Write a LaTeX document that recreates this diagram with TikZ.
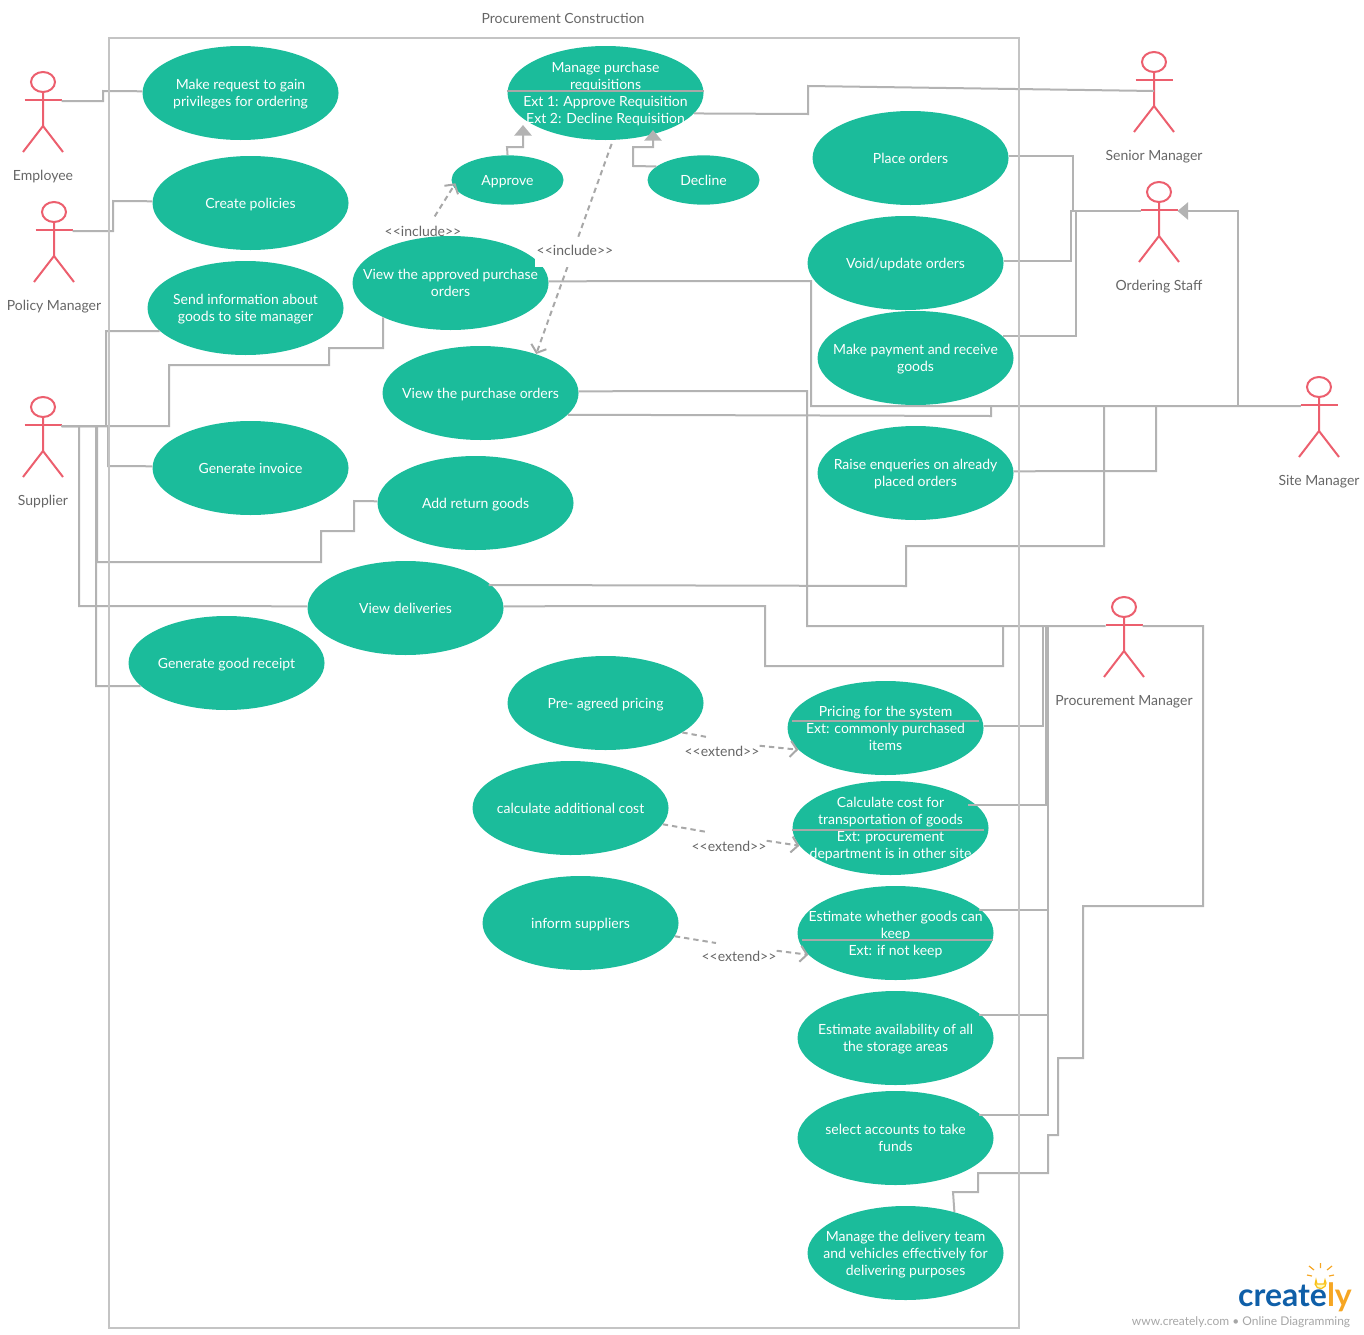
\documentclass[tikz,border=0pt]{standalone}
\usepackage{fontspec}
\setmainfont{Lato}
\usetikzlibrary{shapes.geometric, arrows.meta}

\definecolor{casegreen}{HTML}{1BBC9B}
\definecolor{wiregrey}{HTML}{B3B3B3}
\definecolor{boxgrey}{HTML}{C4C4C4}
\definecolor{dashgrey}{HTML}{A8A8A8}
\definecolor{actorred}{HTML}{EC5F6E}
\definecolor{labelgrey}{HTML}{666666}
\definecolor{logoblue}{HTML}{0F5FA8}
\definecolor{logoorange}{HTML}{F6A623}

\newcommand{\actor}[4]{
  \node[actorhead] (#1) at (#2,#3) {};
  \path (#1.center) ++(-18.5,19) coordinate (#1-l) ++(37,0) coordinate (#1-r) ++(-18.5,10) coordinate (#1-w);
  \draw[actorline] (#1.south) -- ++(0,33) coordinate (#1-hip) -- ++(-20,26);
  \draw[actorline] (#1-hip) -- ++(20,26);
  \draw[actorline] (#1.center) ++(-18.5,18) -- ++(37,0);
  \path (#1.center) ++(0,93) node[tag] (#1-name) {#4};
}

\begin{document}
\begin{tikzpicture}[x=0.75pt, y=-0.75pt,
  usecase/.style={ellipse, fill=casegreen, inner sep=0pt, xshift=0.4pt, minimum width=147pt, minimum height=70.5pt},
  smallcase/.style={usecase, minimum width=84pt, minimum height=37pt},
  casetext/.style={text=white, align=center, inner sep=0pt, yshift=-1.85pt, font=\fontsize{10.5}{12.75}\selectfont, execute at begin node=\strut, execute at end node=\strut},
  tag/.style={text=labelgrey, inner sep=0pt, yshift=-1.5pt, text height=8pt, text depth=2.5pt, font=\fontsize{10.5}{12.75}\selectfont},
  actorhead/.style={ellipse, draw=actorred, line width=1.5pt, inner sep=0pt, minimum width=18pt, minimum height=15pt},
  actorline/.style={actorred, line width=1.5pt},
  wire/.style={wiregrey, line width=1.5pt},
  divider/.style={dashgrey, line width=1.5pt},
  solidtip/.style={wire, -{Triangle[width=13pt, length=8pt]}},
  dashline/.style={dashgrey, line width=1.5pt, dash pattern=on 4pt off 3pt},
  opentip/.style={dashline, -{Straight Barb[length=5pt, width=12pt]}}]

  \useasboundingbox (0,0) rectangle (1364,1335);

  \node[usecase, label={[casetext]center:{Make request to gain\\privileges for ordering}}] (request) at (240,93) {};
  \node[usecase, label={[casetext]center:{Create policies}}] (policies) at (250,203) {};
  \node[usecase, label={[casetext]center:{Send information about\\goods to site manager}}] (sendinfo) at (245,308) {};
  \node[usecase, label={[casetext]center:{Generate invoice}}] (invoice) at (250,468) {};
  \node[usecase, label={[casetext]center:{View the approved purchase\\orders}}] (viewapproved) at (450,283) {};
  \node[usecase, label={[casetext]center:{View the purchase orders}}] (viewpo) at (480,393) {};
  \node[usecase, label={[casetext]center:{Add return goods}}] (returns) at (475,503) {};
  \node[usecase, label={[casetext]center:{View deliveries}}] (deliveries) at (405,608) {};
  \node[usecase, label={[casetext]center:{Generate good receipt}}] (receipt) at (226,663) {};
  \node[usecase, label={[casetext]center:{Manage purchase\\requisitions\\Ext 1: Approve Requisition\\Ext 2: Decline Requisition}}] (manage) at (605,93) {};
  \node[smallcase, label={[casetext]center:{Approve}}] (approve) at (507,180) {};
  \node[smallcase, label={[casetext]center:{Decline}}] (decline) at (703,180) {};
  \node[usecase, label={[casetext]center:{Place orders}}] (place) at (910,158) {};
  \node[usecase, label={[casetext]center:{Void/update orders}}] (void) at (905,263) {};
  \node[usecase, label={[casetext]center:{Make payment and receive\\goods}}] (payment) at (915,358) {};
  \node[usecase, label={[casetext]center:{Raise enqueries on already\\placed orders}}] (raise) at (915,473) {};
  \node[usecase, label={[casetext]center:{Pre- agreed pricing}}] (preagreed) at (605,703) {};
  \node[usecase, label={[casetext]center:{Pricing for the system\\Ext: commonly purchased\\items}}] (pricesys) at (885,728) {};
  \node[usecase, label={[casetext]center:{calculate additional cost}}] (addcost) at (570,808) {};
  \node[usecase, label={[casetext]center:{Calculate cost for\\transportation of goods\\Ext: procurement\\department is in other site}}] (transport) at (890,828) {};
  \node[usecase, label={[casetext]center:{inform suppliers}}] (inform) at (580,923) {};
  \node[usecase, label={[casetext]center:{Estimate whether goods can\\keep\\Ext: if not keep}}] (keep) at (895,933) {};
  \node[usecase, label={[casetext]center:{Estimate availability of all\\the storage areas}}] (storage) at (895,1038) {};
  \node[usecase, label={[casetext]center:{select accounts to take\\funds}}] (accounts) at (895,1138) {};
  \node[usecase, label={[casetext]center:{Manage the delivery team\\and vehicles effectively for\\delivering purposes}}] (team) at (905,1253) {};

  \actor{employee}{43}{82}{Employee}
  \actor{policy}{54}{212}{Policy Manager}
  \actor{supplier}{43}{407}{Supplier}
  \actor{senior}{1154}{62}{Senior Manager}
  \actor{ordering}{1159}{192}{Ordering Staff}
  \actor{site}{1319}{387}{Site Manager}
  \actor{procurement}{1124}{607}{Procurement Manager}

  \draw[divider] (manage.179) -- (manage.1);
  \draw[divider, shorten <=3pt, shorten >=3pt] (pricesys.176) -- (pricesys.4);
  \draw[divider, shorten >=3.5pt] (transport.181.5) -- (transport.-1.5);
  \draw[divider, shorten <=3pt] (keep.184.5) -- (keep.-4.5);

  \coordinate (approvetip) at (523,125);
  \coordinate (declinetip) at (653,130);
  \draw[wire] (employee-r) -- (103,101) -- (103,91) -- (request.179);
  \draw[wire] (policy-r) -- (113,231) -- (113,201) -- (policies.179);
  \draw[wire] (supplier-r) -- (169,426) -- (169,365) -- (329,365) -- (329,348) -- (383,348) -- (viewapproved.207.6);
  \draw[wire] (supplier-r) -- (106,426) -- (106,331) -- (sendinfo.195);
  \draw[wire] (supplier-r) -- (108,426) -- (108,466) -- (invoice.179);
  \draw[wire] (supplier-r) -- (97,426) -- (97,562) -- (321,562) -- (321,531) -- (354,531) -- (354,501) -- (returns.179);
  \draw[wire] (supplier-r) -- (79,426) -- (79,606) -- (deliveries.179);
  \draw[wire] (supplier-r) -- (96,426) -- (96,686) -- (receipt.195.5);
  \draw[wire] (manage.-13.4) -- (808,114) -- (808,86) -- (senior-w);
  \draw[solidtip] (approve.north) -- (507,147) -- (523,147) -- (approvetip);
  \draw[solidtip] (decline.164.4) -- (633,166) -- (633,147) -- (653,147) -- (declinetip);
  \draw[wire] (viewapproved.1) -- (811,281) -- (811,406) -- (site-l);
  \draw[wire] (viewpo.-14.8) -- (991,416) -- (991,406);
  \draw[wire] (viewpo.1) -- (807,391) -- (807,626) -- (procurement-l);
  \draw[wire, shorten <=-2pt] (deliveries.15) -- (906,586) -- (906,546) -- (1104,546) -- (1104,406);
  \draw[wire] (deliveries.1) -- (765,606) -- (765,666) -- (1003,666) -- (1003,626);
  \draw[wire] (raise.1) -- (1156,471) -- (1156,406);
  \draw[wire] (place.1) -| (1073,211) -- (ordering-l);
  \draw[wire] (void.1) -| (1071,211) -- (ordering-l);
  \draw[wire] (payment.14.5) -| (1076,211) -- (ordering-l);
  \draw[solidtip] (site-l) -- (1238,406) -- (1238,211) -- (ordering-r);
  \draw[wire] (pricesys.1) -| (1043,626);
  \draw[wire, shorten <=-6pt] (transport.15) -| (1046,626);
  \draw[wire, shorten <=-2pt] (keep.15) -| (1048,626);
  \draw[wire, shorten <=-2pt] (storage.15) -| (1048,626);
  \draw[wire, shorten <=-2pt] (accounts.15) -| (1048,626);
  \draw[wire] (procurement-r) -- (1203,626) -- (1203,906) -- (1083,906) -- (1083,1058) -- (1058,1058) -- (1058,1135) -- (1048,1135) -- (1048,1173) -- (978,1173) -- (978,1192) -- (953,1192) -- (team.40.5);

  \draw[opentip, shorten <=19pt, shorten >=-3pt] (viewapproved.123.7) -- (approve.187);
  \node[tag] (includeA) at (423,231) {<{}<include>{}>};
  \draw[opentip, shorten <=3pt] (manage.-81) -- (viewpo.35);
  \node[tag, fill=white, inner xsep=1pt, inner ysep=6pt] (includeB) at (575,250) {<{}<include>{}>};

  \coordinate (extA) at (707,737);
  \coordinate (extB) at (707,832);
  \coordinate (extC) at (716,943);
  \node[tag] (extendA) at (722,751) {<{}<extend>{}>};
  \node[tag] (extendB) at (729,846) {<{}<extend>{}>};
  \node[tag] (extendC) at (739,956) {<{}<extend>{}>};
  \draw[dashline] (preagreed.-21.8) -- (extA);
  \draw[opentip] (extendA.north east) -- (pricesys.194.6);
  \draw[dashline] (addcost.-10.6) -- (extB);
  \draw[opentip] (extendB.north east) -- (transport.191);
  \draw[dashline] (inform.-8) -- (extC);
  \draw[opentip] (extendC.north east) -- (keep.194);

  \draw[boxgrey, line width=1.5pt] (109,38) rectangle (1019,1328);
  \node[tag] (title) at (563,18) {Procurement Construction};

  \draw[logoorange!70!yellow, line width=0.9pt, fill=yellow!25] (1317,1284) -- (1316,1280) arc (215:-35:5.5) -- (1324,1284) -- cycle;
  \draw[logoorange, line width=0.9pt] (1320.5,1263) -- (1320.5,1268) (1309,1266) -- (1314,1270) (1332,1266) -- (1327,1270) (1307,1275) -- (1312,1276) (1334,1275) -- (1329,1276);
  \node[inner sep=0pt, font=\fontsize{24}{24}\selectfont\bfseries] (logo) at (1295,1297) {\textcolor{logoblue}{create}\textcolor{logoorange}{ly}};
  \node[inner sep=0pt, text=gray!70, font=\fontsize{9}{11}\selectfont] (weblink) at (1241,1322) {www.creately.com \textbullet{} Online Diagramming};
\end{tikzpicture}
\end{document}
